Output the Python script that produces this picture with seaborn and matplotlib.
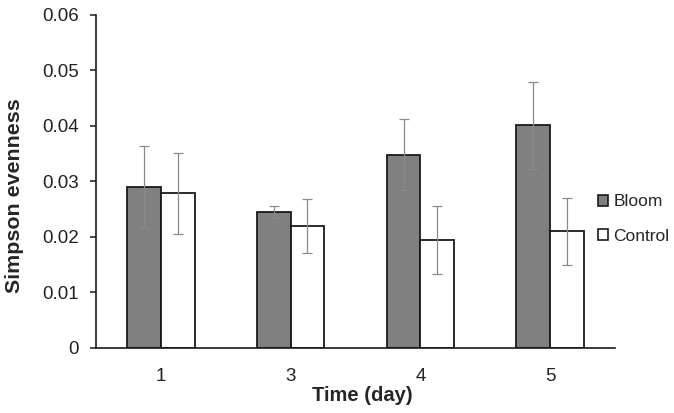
import matplotlib
matplotlib.use("Agg")
import matplotlib.pyplot as plt
import seaborn as sns
import pandas as pd
import numpy as np
from matplotlib.patches import Patch

days = ["1", "3", "4", "5"]
bloom = [0.0290, 0.0245, 0.0348, 0.0401]
bloom_err = [0.0074, 0.0011, 0.0064, 0.0078]
control = [0.0279, 0.0220, 0.0195, 0.0210]
control_err = [0.0073, 0.0048, 0.0061, 0.0061]
groups = ["Bloom", "Control"]
yticks = [0, 0.01, 0.02, 0.03, 0.04, 0.05, 0.06]
ytick_labels = ["0", "0.01", "0.02", "0.03", "0.04", "0.05", "0.06"]

df = pd.DataFrame({
    "day": days * 2,
    "value": bloom + control,
    "group": ["Bloom"] * 4 + ["Control"] * 4,
})
errs = {"Bloom": bloom_err, "Control": control_err}
vals = {"Bloom": bloom, "Control": control}

sns.set_style("white")
plt.rcParams["font.family"] = ["Liberation Sans", "DejaVu Sans"]

fig = plt.figure(figsize=(6.74, 4.13), dpi=100)
ax = fig.add_axes([0.1424, 0.1574, 0.9125 - 0.1424, 0.9637 - 0.1574])

palette = {"Bloom": "#808080", "Control": "#ffffff"}
sns.barplot(data=df, x="day", y="value", hue="group", palette=palette,
            order=days, hue_order=groups, width=0.52, errorbar=None,
            edgecolor="#1a1a1a", linewidth=1.3, ax=ax, legend=False)

for cont, g in zip(ax.containers, groups):
    xs = [p.get_x() + p.get_width() / 2 for p in cont.patches]
    ax.errorbar(xs, vals[g], yerr=errs[g], fmt="none", ecolor="#8a8a8a",
                elinewidth=0.9, capsize=3.5, capthick=0.9, zorder=5)

ax.set_ylim(0, 0.06)
ax.set_xlim(-0.5, 3.5)
ax.set_yticks(yticks)
ax.set_yticklabels(ytick_labels)
for s in ["top", "right"]:
    ax.spines[s].set_visible(False)
for s in ["left", "bottom"]:
    ax.spines[s].set_color("#1a1a1a")
    ax.spines[s].set_linewidth(1.2)
ax.tick_params(axis="y", left=True, length=4.5, width=1.1, color="#1a1a1a",
               labelsize=13.5, pad=8, labelcolor="#222222")
ax.tick_params(axis="x", bottom=False, labelsize=13.5, pad=11, labelcolor="#222222")
ax.set_xlabel("Time (day)", fontsize=14.5, fontweight="bold")
ax.set_ylabel("Simpson evenness", fontsize=15.4, fontweight="bold")
ax.xaxis.set_label_coords(0.5125, -0.113)
ax.yaxis.set_label_coords(-0.138, 0.458)

handles = [Patch(facecolor=palette[g], edgecolor="#1a1a1a", linewidth=1.2, label=g)
           for g in groups]
fig.legend(handles=handles, loc="center left", bbox_to_anchor=(598 / 674, 1 - 219 / 413),
           frameon=False, fontsize=12.5, handlelength=0.6, handleheight=0.6,
           handletextpad=0.3, labelspacing=1.1, borderpad=0, borderaxespad=0)

fig.savefig("out.png", dpi=100)
